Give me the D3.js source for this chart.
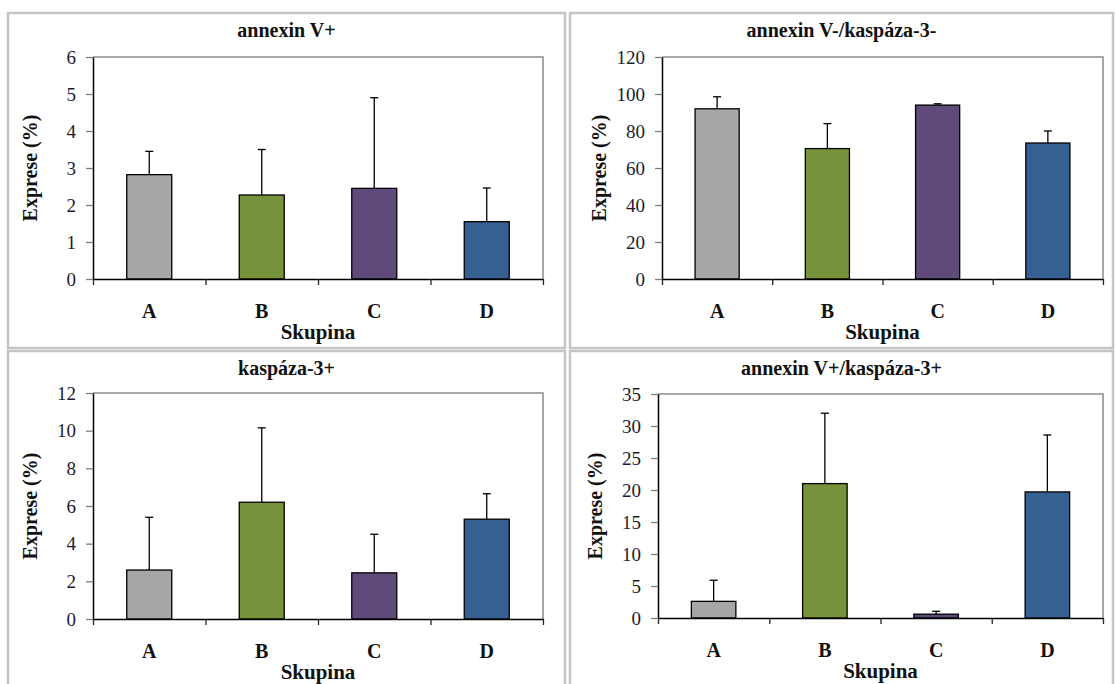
<!DOCTYPE html>
<html>
<head>
<meta charset="utf-8">
<script src="https://cdn.jsdelivr.net/npm/d3@7"></script>
<style>
  body { margin: 0; background: #fff; }
</style>
</head>
<body>
<div id="chart"></div>
<script>
// skupiny a barvy sloupců
const groups = ['A', 'B', 'C', 'D'];
const barColors = ['#a6a6a6', '#77933c', '#604a7b', '#376092'];

// annexin V+
const annexinMean = [2.82, 2.27, 2.45, 1.55];
const annexinSd = [0.63, 1.23, 2.45, 0.91];
// annexin V-/kaspáza-3-
const negMean = [92, 70.5, 94, 73.5];
const negSd = [6.5, 13.5, 0.7, 6.5];
// kaspáza-3+
const caspMean = [2.6, 6.2, 2.45, 5.3];
const caspSd = [2.8, 3.95, 2.05, 1.35];
// annexin V+/kaspáza-3+
const bothMean = [2.6, 21, 0.6, 19.7];
const bothSd = [3.3, 11, 0.45, 8.9];

// osy y
const yMax = [6, 120, 12, 35];
const yStep = [1, 20, 2, 5];
const titles = ['annexin V+', 'annexin V-/kaspáza-3-', 'kaspáza-3+', 'annexin V+/kaspáza-3+'];

const FONT = '"Liberation Serif", "Times New Roman", Tinos, "Noto Serif", "Nimbus Roman", FreeSerif, "DejaVu Serif", serif';

const svg = d3.select('#chart').append('svg')
    .attr('width', 1115)
    .attr('height', 684)
    .attr('font-family', FONT);

// rámečky a plochy grafů
const panels = [
    { box: [8, 13, 557, 335], plot: { left: 93, right: 543, top: 57, bottom: 279 }, mean: annexinMean, sd: annexinSd },
    { box: [570, 13, 543, 335], plot: { left: 662, right: 1103, top: 57, bottom: 279 }, mean: negMean, sd: negSd },
    { box: [8, 351, 557, 345], plot: { left: 93, right: 543, top: 393, bottom: 619 }, mean: caspMean, sd: caspSd },
    { box: [570, 351, 543, 345], plot: { left: 658, right: 1103, top: 394, bottom: 618 }, mean: bothMean, sd: bothSd }
];

panels.forEach((p, k) => {
    const g = svg.append('g');
    const [bx, by, bw, bh] = p.box;

    g.append('rect')
        .attr('x', bx).attr('y', by)
        .attr('width', bw).attr('height', bh)
        .attr('fill', '#fff')
        .attr('stroke', '#c4c4c4')
        .attr('stroke-width', 2.5);

    const pl = p.plot;
    const x = d3.scaleBand().domain(groups).range([pl.left, pl.right]);
    const xEdge = d3.scaleLinear().domain([0, groups.length]).range([pl.left, pl.right]);
    const y = d3.scaleLinear().domain([0, yMax[k]]).range([pl.bottom, pl.top]);
    const barW = x.bandwidth() * 0.4;

    // horní a pravý okraj plochy
    g.append('path')
        .attr('d', `M${pl.left},${pl.top}H${pl.right}V${pl.bottom}`)
        .attr('fill', 'none')
        .attr('stroke', '#8c8c8c')
        .attr('stroke-width', 1.5);

    // sloupce
    g.selectAll('rect.bar')
        .data(groups)
        .enter()
        .append('rect')
        .attr('class', 'bar')
        .attr('x', d => x(d) + (x.bandwidth() - barW) / 2)
        .attr('y', (d, i) => y(p.mean[i]))
        .attr('width', barW)
        .attr('height', (d, i) => y(0) - y(p.mean[i]))
        .attr('fill', (d, i) => barColors[i])
        .attr('stroke', '#000')
        .attr('stroke-width', 1.3);

    // chybové úsečky (jen nahoru)
    groups.forEach((d, i) => {
        const cx = x(d) + x.bandwidth() / 2;
        const y0 = y(p.mean[i]);
        const y1 = y(p.mean[i] + p.sd[i]);
        g.append('line')
            .attr('x1', cx).attr('x2', cx)
            .attr('y1', y0).attr('y2', y1)
            .attr('stroke', '#000').attr('stroke-width', 1.3);
        g.append('line')
            .attr('x1', cx - 4).attr('x2', cx + 4)
            .attr('y1', y1).attr('y2', y1)
            .attr('stroke', '#000').attr('stroke-width', 1.3);
    });

    // osa y
    const yAxis = g.append('g')
        .attr('transform', `translate(${pl.left},0)`)
        .call(d3.axisLeft(y)
            .tickValues(d3.range(0, yMax[k] + yStep[k] / 2, yStep[k]))
            .tickFormat(d3.format('d'))
            .tickSize(7)
            .tickSizeOuter(0)
            .tickPadding(10));
    yAxis.attr('font-family', FONT).attr('font-size', 19);
    yAxis.select('.domain').attr('stroke', '#000').attr('stroke-width', 1.5);
    yAxis.selectAll('.tick line').attr('stroke', '#7f7f7f').attr('stroke-width', 1.3);
    yAxis.selectAll('.tick text').attr('fill', '#1b1b2e');

    // osa x
    const xAxis = g.append('g')
        .attr('transform', `translate(0,${pl.bottom})`)
        .call(d3.axisBottom(xEdge)
            .tickValues(d3.range(0, groups.length + 1))
            .tickFormat('')
            .tickSize(6)
            .tickSizeOuter(0));
    xAxis.select('.domain').attr('stroke', '#000').attr('stroke-width', 1.5);
    xAxis.selectAll('.tick line').attr('stroke', '#222').attr('stroke-width', 1.3);

    // popisky skupin
    g.selectAll('text.cat')
        .data(groups)
        .enter()
        .append('text')
        .attr('class', 'cat')
        .attr('x', d => x(d) + x.bandwidth() / 2)
        .attr('y', pl.bottom + 39)
        .attr('text-anchor', 'middle')
        .attr('font-size', 20)
        .attr('font-weight', 'bold')
        .attr('fill', '#111')
        .text(d => d);

    g.append('text')
        .attr('x', (pl.left + pl.right) / 2)
        .attr('y', pl.bottom + 60)
        .attr('text-anchor', 'middle')
        .attr('font-size', 21)
        .attr('font-weight', 'bold')
        .attr('fill', '#111')
        .text('Skupina');

    // název
    g.append('text')
        .attr('x', bx + bw / 2)
        .attr('y', by + 24)
        .attr('text-anchor', 'middle')
        .attr('font-size', 20)
        .attr('font-weight', 'bold')
        .attr('fill', '#111')
        .text(titles[k]);

    // popisek osy y
    const ly = (pl.top + pl.bottom) / 2;
    const lx = pl.left - 63;
    g.append('text')
        .attr('transform', `translate(${lx},${ly}) rotate(-90)`)
        .attr('text-anchor', 'middle')
        .attr('dy', '0.35em')
        .attr('font-size', 20)
        .attr('font-weight', 'bold')
        .attr('fill', '#111')
        .text('Exprese (%)');
});
</script>
</body>
</html>
